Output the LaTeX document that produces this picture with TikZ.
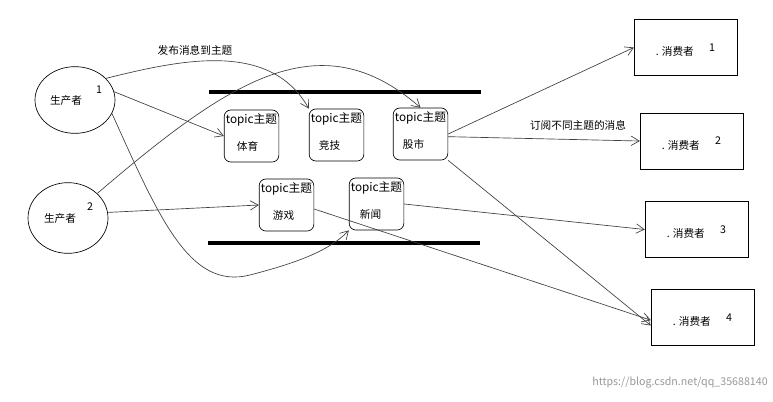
\documentclass[tikz,border=0pt]{standalone}
\usepackage{fontspec}
\setmainfont{Noto Sans CJK SC}
\usetikzlibrary{arrows.meta,shapes.geometric}
\begin{document}
\begin{tikzpicture}[x=0.75pt,y=-0.75pt,
  ln/.style={draw=black!75,line width=0.5pt},
  arr/.style={ln,-{Straight Barb[length=6pt,width=7pt]}},
  topic/.style={draw,rounded corners=5pt,minimum width=41pt,minimum height=39pt,line width=0.5pt},
  cons/.style={draw,minimum width=77pt,minimum height=42pt,line width=0.5pt},
  txt/.style={font=\fontsize{8pt}{9pt}\selectfont,inner sep=0pt}]
\useasboundingbox (0,0) rectangle (773,401);
\fill[white] (0,0) rectangle (773,401);
% producers
\node[ellipse,draw,minimum width=60pt,minimum height=50pt,line width=0.5pt] (p1) at (75,100) {};
\node[ellipse,draw,minimum width=60pt,minimum height=53pt,line width=0.5pt] (p2) at (68,218) {};
\node[txt] (p1t) at (66,100) {生产者};
\node[txt] (p1n) at (99,90) {1};
\node[txt] (p2t) at (60,218) {生产者};
\node[txt] (p2n) at (90,207) {2};
% bars
\coordinate (b1a) at (209,92); \coordinate (b1b) at (481,92);
\coordinate (b2a) at (208,243); \coordinate (b2b) at (480,243);
\draw[line width=3.5pt] (b1a) -- (b1b);
\draw[line width=3.5pt] (b2a) -- (b2b);
% topics
\node[topic] (t1) at (251.5,136) {};
\node[topic] (t2) at (336.5,135) {};
\node[topic] (t3) at (420.5,134) {};
\node[topic] (t4) at (286.5,205) {};
\node[topic] (t5) at (376.5,204) {};
\foreach \n/\w/\dx in {t1/体育/-4,t2/竞技/-7,t3/股市/-7,t4/游戏/-3,t5/新闻/-6}{
  \node[txt,anchor=north,font=\fontsize{8.8pt}{9pt}\selectfont] (\n a) at ([yshift=-3pt]\n.north) {topic主题};
  \node[txt] (\n b) at ([xshift=\dx*0.75pt,yshift=-8pt]\n.center) {\w};
}
% consumers
\node[cons] (c1) at (685.5,47.5) {};
\node[cons] (c2) at (691.5,141) {};
\node[cons] (c3) at (696.5,229.5) {};
\node[cons] (c4) at (702.5,317.5) {};
\foreach \c/\k in {c1/1,c2/2,c3/3,c4/4}{
  \node[txt] (\c t) at ([xshift=-8pt,yshift=-3pt]\c.center) {. 消费者};
  \node[txt] (\c n) at ([xshift=20pt,yshift=0pt]\c.center) {\k};
}
% labels
\node[txt] (l1) at (195,50) {发布消息到主题};
\node[txt] (l2) at (578,125) {订阅不同主题的消息};
\node[txt,text=black!40] (wm) at (680,383) {https://blog.csdn.net/qq\_35688140};
% connectors
\draw[arr] (p1.35) .. controls (180,60) and (270,40) .. (t2.north west);
\draw[arr] (p1.12) -- (t1.west);
\draw[arr] (p1.-20) .. controls (160,220) and (190,290) .. (250,275) .. controls (300,262) and (330,250) .. (t5.south west);
\draw[arr] (p2.40) .. controls (230,80) and (320,20) .. (t3.north);
\draw[arr] (p2.8) -- (t4.west);
\draw[arr] (t3.east) -- (c1.west);
\draw[arr] ([yshift=-2pt]t3.east) -- (c2.west);
\draw[arr] (t3.south east) -- ([yshift=-6pt]c4.west);
\draw[arr] ([yshift=-3pt]t4.east) -- ([yshift=-2pt]c4.west);
\draw[arr] (t5.east) -- (c3.west);
\end{tikzpicture}
\end{document}
